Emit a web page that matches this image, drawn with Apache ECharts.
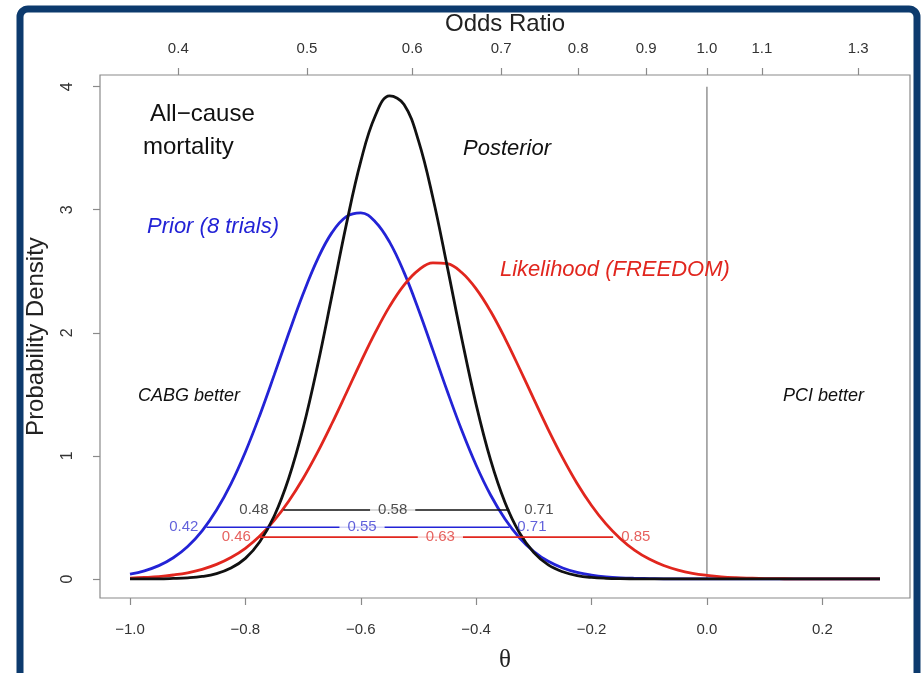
<!DOCTYPE html>
<html><head><meta charset="utf-8">
<script src="https://cdn.jsdelivr.net/npm/echarts@6/dist/echarts.min.js"></script>
<style>html,body{margin:0;padding:0;background:#fff}#c{width:922px;height:673px}</style>
</head><body><div id="c"></div>
<script>
// ---- data ----
const theta = [-1.000,-0.975,-0.950,-0.925,-0.900,-0.875,-0.850,-0.825,-0.800,-0.775,-0.750,-0.725,-0.700,-0.675,-0.650,-0.625,-0.600,-0.575,-0.550,-0.525,-0.500,-0.475,-0.450,-0.425,-0.400,-0.375,-0.350,-0.325,-0.300,-0.275,-0.250,-0.225,-0.200,-0.175,-0.150,-0.125,-0.100,-0.075,-0.050,-0.025,0.000,0.025,0.050,0.075,0.100,0.125,0.150,0.175,0.200,0.225,0.250,0.275,0.300];
const prior = [0.039,0.066,0.108,0.172,0.264,0.391,0.560,0.773,1.032,1.331,1.658,1.994,2.315,2.597,2.814,2.944,2.975,2.903,2.737,2.491,2.190,1.859,1.525,1.208,0.924,0.682,0.487,0.335,0.223,0.143,0.089,0.053,0.031,0.017,0.009,0.005,0.003,0.001,0.001,0,0,0,0,0,0,0,0,0,0,0,0,0,0];
const likelihood = [0.007,0.012,0.019,0.032,0.050,0.078,0.118,0.174,0.249,0.348,0.475,0.631,0.816,1.028,1.263,1.511,1.762,2.001,2.215,2.388,2.509,2.569,2.562,2.490,2.357,2.175,1.955,1.712,1.461,1.214,0.984,0.776,0.597,0.447,0.327,0.232,0.161,0.109,0.072,0.046,0.029,0.017,0.010,0.006,0.003,0.002,0.001,0.001,0,0,0,0,0];
const posterior = [0,0.001,0.001,0.004,0.009,0.020,0.043,0.088,0.167,0.302,0.511,0.816,1.225,1.731,2.302,2.881,3.393,3.762,3.925,3.855,3.562,3.098,2.536,1.954,1.417,0.967,0.621,0.375,0.214,0.114,0.058,0.027,0.012,0.005,0.002,0.001,0,0,0,0,0,0,0,0,0,0,0,0,0,0,0,0,0];

const thetaTicks = [-1.0,-0.8,-0.6,-0.4,-0.2,0.0,0.2];
const densityTicks = [0,1,2,3,4];
const oddsRatioTicks = [0.4,0.5,0.6,0.7,0.8,0.9,1.0,1.1,1.3];

// credible intervals (odds ratio scale): posterior, prior, likelihood
const ciLow  = [0.48,0.42,0.46];
const ciMid  = [0.58,0.55,0.63];
const ciHigh = [0.71,0.71,0.85];
const ciHeight = [0.56,0.42,0.34];

const refLineTheta = 0;
const refLineTop = 4;

// ---- styles ----
const FONT = '"Liberation Sans", Arial, Helvetica, sans-serif';
const BLUE = '#2323d6', RED = '#e1261e', BLACK = '#111111', GRAY = '#8a8a8a';
const ciColors = [BLACK, BLUE, RED];
const ciLabelColors = ['#222222', '#3a3ad2', '#e03a36'];
const ciGap = [15, 8, 8];

const chart = echarts.init(document.getElementById('c'), null, {renderer: 'canvas'});

const fmtTheta = v => (v < 0 ? '\u2212' : '') + Math.abs(v).toFixed(1);

function curve(name, vals, color) {
  return {
    name, type: 'line', xAxisIndex: 0, yAxisIndex: 0,
    data: theta.map((t, i) => [t, vals[i]]),
    smooth: 0.4, symbol: 'none', z: 3,
    lineStyle: {color, width: 2.8}
  };
}

const series = [
  {
    type: 'line', symbol: 'none', z: 2, silent: true,
    data: [[refLineTheta, 0], [refLineTheta, refLineTop]],
    lineStyle: {color: '#8c8c8c', width: 1.4}
  },
  curve('Prior', prior, BLUE),
  curve('Likelihood', likelihood, RED),
  curve('Posterior', posterior, BLACK)
];

for (let k = 0; k < 3; k++) {
  const lo = Math.log(ciLow[k]), hi = Math.log(ciHigh[k]), mid = Math.log(ciMid[k]);
  const h = ciHeight[k];
  series.push({
    type: 'line', symbol: 'none', z: 5, silent: true,
    data: [[lo, h], [hi, h]],
    lineStyle: {color: ciColors[k], width: 1.6}
  });
  const lab = {color: ciLabelColors[k], fontFamily: FONT, fontSize: 15, lineHeight: 15};
  series.push({
    type: 'scatter', symbolSize: 0, z: 6, silent: true,
    data: [
      {value: [lo, h], label: Object.assign({show: true, position: 'left', distance: ciGap[k], formatter: ciLow[k].toFixed(2)}, lab)},
      {value: [mid, h], label: Object.assign({show: true, position: 'inside', formatter: ciMid[k].toFixed(2), backgroundColor: '#ffffff', padding: [0, 8]}, lab)},
      {value: [hi, h], label: Object.assign({show: true, position: 'right', distance: ciGap[k], formatter: ciHigh[k].toFixed(2)}, lab)}
    ]
  });
}

function txt(text, x, y, size, color, italic) {
  return {
    type: 'text', x, y, z: 50, silent: true,
    style: {text, fill: color, font: (italic ? 'italic ' : '') + size + 'px ' + FONT,
            textAlign: 'left', textVerticalAlign: 'middle'}
  };
}

const option = {
  backgroundColor: '#ffffff',
  animation: false,
  grid: {left: 100, right: 12, top: 75, bottom: 75, containLabel: false, outerBoundsMode: 'none',
         show: true, borderColor: GRAY, borderWidth: 1.2, backgroundColor: 'transparent'},
  xAxis: [
    {
      type: 'value', position: 'bottom', min: -1.052, max: 0.352,
      name: '\u03b8', nameLocation: 'middle', nameGap: 50,
      nameTextStyle: {fontFamily: '"Liberation Serif", "DejaVu Serif", serif', fontSize: 25, color: '#222'},
      axisLine: {show: false, onZero: false}, splitLine: {show: false},
      axisTick: {show: true, inside: false, length: 7, lineStyle: {color: GRAY, width: 1.2}, customValues: thetaTicks},
      axisLabel: {customValues: thetaTicks, formatter: fmtTheta, margin: 24, fontSize: 15, fontFamily: FONT, color: '#333'}
    },
    {
      type: 'value', position: 'top', min: -1.052, max: 0.352,
      name: 'Odds Ratio', nameLocation: 'middle', nameGap: 38,
      nameTextStyle: {fontFamily: FONT, fontSize: 24, color: '#222'},
      axisLine: {show: false, onZero: false}, splitLine: {show: false},
      axisTick: {show: true, inside: false, length: 7, lineStyle: {color: GRAY, width: 1.2}, customValues: oddsRatioTicks.map(Math.log)},
      axisLabel: {customValues: oddsRatioTicks.map(Math.log), formatter: v => Math.exp(v).toFixed(1), margin: 19, fontSize: 15, fontFamily: FONT, color: '#333'}
    }
  ],
  yAxis: {
    type: 'value', min: -0.155, max: 4.095,
    name: 'Probability Density', nameLocation: 'middle', nameGap: 52,
    nameTextStyle: {fontFamily: FONT, fontSize: 24, color: '#222'},
    axisLine: {show: false, onZero: false}, splitLine: {show: false},
    axisTick: {show: true, inside: false, length: 7, lineStyle: {color: GRAY, width: 1.2}, customValues: densityTicks},
    axisLabel: {customValues: densityTicks, rotate: 90, margin: 24, fontSize: 16, fontFamily: FONT, color: '#333', formatter: v => String(v)}
  },
  series,
  graphic: [
    {type: 'rect', z: 100, silent: true, shape: {x: 20, y: 9, width: 897, height: 720, r: 8},
     style: {fill: 'none', stroke: '#0c3a6d', lineWidth: 7}},
    txt('All\u2212cause', 150, 114, 24, '#111', false),
    txt('mortality', 143, 147, 24, '#111', false),
    txt('Posterior', 463, 149, 22, '#111', true),
    txt('Prior (8 trials)', 147, 227, 22, BLUE, true),
    txt('Likelihood (FREEDOM)', 500, 270, 22, RED, true),
    txt('CABG better', 138, 396, 18, '#111', true),
    txt('PCI better', 783, 396, 18, '#111', true)
  ]
};
chart.setOption(option);
</script></body></html>
